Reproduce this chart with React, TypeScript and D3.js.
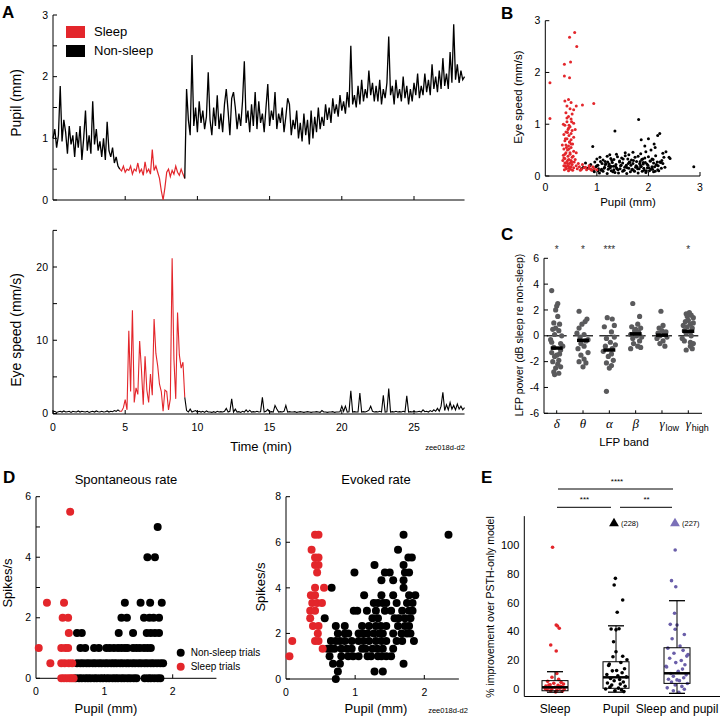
import React from "react";
import * as d3 from "d3";

const FONT = "'Liberation Sans', Arial, Helvetica, sans-serif";
const SERIF = "'Liberation Serif', 'Times New Roman', serif";
const RED = "#e3262b";
const PURPLE = "#6a5ea9";
const GREY = "#5a5a5c";

// ---- A: traces sampled every 0.125 min ----
const STEP = 0.125;
const SLEEP_START = 4.75;
const WAKE_START = 9.25;

const pupilPre = [1.0, 1.15, 0.85, 1.05, 1.85, 0.95, 1.3, 1.1, 0.75, 1.2,
  0.9, 1.05, 0.7, 1.1, 0.85, 1.2, 0.65, 1.0, 1.45, 0.8,
  1.05, 0.75, 1.6, 0.9, 1.15, 0.8, 0.95, 0.7, 1.0, 0.65,
  1.27, 0.8, 0.7, 0.85, 0.6, 0.7, 0.55, 0.5];
const pupilSleep = [0.47, 0.55, 0.45, 0.5, 0.48, 0.55, 0.42, 0.5, 0.47, 0.6,
  0.45, 0.5, 0.4, 0.62, 0.45, 0.5, 0.42, 0.82, 0.48, 0.55,
  0.45, 0.35, 0.15, 0.0, 0.2, 0.45, 0.5, 0.38, 0.48, 0.42,
  0.55, 0.45, 0.4, 0.5, 0.42, 0.35];
const pupilPost = [1.8, 1.3, 1.05, 2.35, 1.2, 1.5, 1.1, 1.6,
  1.25, 1.45, 1.15, 1.35, 2.07, 1.3, 1.05, 1.5,
  1.2, 1.7, 1.15, 1.4, 1.1, 1.55, 1.8, 1.45,
  1.05, 1.65, 1.75, 1.5, 1.15, 1.4, 1.2, 1.6,
  2.25, 1.25, 1.45, 1.1, 1.55, 1.2, 1.75, 1.15,
  1.6, 1.25, 1.4, 1.1, 1.5, 1.88, 1.2, 1.45,
  1.3, 1.75, 1.15, 1.4, 1.25, 1.5, 1.1, 1.35,
  1.65, 1.55, 1.05, 1.3, 1.15, 1.45, 1.0, 1.25,
  0.95, 1.4, 1.05, 1.3, 0.9, 1.45, 1.0, 1.35,
  1.1, 1.5, 1.15, 1.35, 1.2, 1.55, 1.3, 1.5,
  1.25, 1.65, 1.4, 1.55, 1.35, 1.7, 1.45, 1.6,
  1.4, 1.75, 1.5, 2.5, 1.55, 1.7, 1.5, 1.85,
  1.55, 1.95, 1.6, 1.8, 1.65, 2.1, 1.7, 1.9,
  1.6, 1.85, 1.6, 1.95, 1.55, 1.8, 1.65, 1.9,
  2.65, 1.7, 1.85, 1.55, 1.95, 1.65, 1.8, 1.6,
  2.0, 1.65, 1.85, 1.55, 1.8, 1.6, 1.9, 1.7,
  2.05, 1.65, 1.85, 1.7, 2.05, 1.75, 1.95, 1.7,
  2.2, 1.8, 2.0, 1.75, 2.1, 1.8, 2.3, 1.85,
  2.05, 1.8, 2.4, 1.9, 2.85, 1.95, 2.2, 1.9,
  2.1, 1.95, 2.0];

const eyePre = [0.2, 0.3, 0.15, 0.25, 0.3, 0.2, 0.35, 0.2, 0.25, 0.3,
  0.15, 0.3, 0.25, 0.2, 0.35, 0.2, 0.3, 0.25, 0.2, 0.3,
  0.15, 0.25, 0.3, 0.2, 0.35, 0.25, 0.2, 0.3, 0.2, 0.25,
  0.35, 0.2, 0.3, 0.25, 0.4, 0.3, 0.5, 0.3];
const eyeSleep = [0.3, 0.8, 1.9, 0.5, 11.3, 3.0, 14.1, 1.5, 3.5, 2.6,
  9.9, 6.0, 1.2, 7.8, 3.2, 1.5, 5.4, 2.5, 12.9, 8.2,
  6.5, 4.0, 3.0, 0.3, 3.2, 3.0, 0.5, 2.0, 21.2, 7.4,
  2.0, 13.8, 8.0, 6.2, 7.0, 2.2];
const eyePost = [0.4, 0.2, 0.6, 0.2, 0.3, 0.4, 0.2, 0.3,
  0.2, 0.3, 0.15, 0.35, 0.2, 0.2, 0.15, 0.25,
  0.15, 0.3, 0.2, 0.25, 0.2, 0.3, 0.7, 0.2,
  0.3, 2.0, 0.2, 0.6, 0.2, 0.25, 0.15, 0.3,
  0.2, 0.5, 0.2, 0.45, 0.2, 0.25, 0.2, 0.3,
  0.2, 0.25, 2.2, 0.2, 0.3, 0.55, 0.2, 0.25,
  0.2, 1.1, 0.6, 0.2, 0.25, 0.2, 0.3, 1.1,
  0.2, 0.25, 0.2, 0.2, 0.25, 0.15, 0.2, 0.25,
  0.2, 0.15, 0.2, 0.25, 0.2, 0.15, 0.2, 0.2,
  0.25, 0.2, 0.15, 0.4, 0.2, 0.2, 0.15, 0.2,
  0.2, 0.25, 0.15, 0.2, 0.2, 0.25, 1.0, 0.3,
  1.0, 0.2, 0.25, 3.1, 0.2, 0.25, 0.2, 0.2,
  2.8, 0.2, 0.25, 0.2, 0.3, 0.45, 1.0, 0.3,
  0.2, 0.25, 0.2, 0.3, 0.2, 2.5, 0.2, 0.25,
  3.4, 0.2, 0.25, 0.2, 0.3, 0.2, 0.25, 0.2,
  0.3, 0.2, 2.4, 0.2, 0.25, 0.2, 0.3, 0.2,
  0.25, 0.3, 0.2, 0.5, 0.25, 0.3, 0.2, 0.4,
  0.25, 0.5, 0.3, 0.7, 0.3, 1.0, 2.9, 0.4,
  1.2, 0.5, 1.5, 0.6, 1.1, 0.5, 1.3, 0.6,
  1.0, 0.5, 0.8];

// ---- B: eye speed vs pupil ----
const bSleepPupil = [0.09, 0.09, 0.37, 0.37, 0.47, 0.49, 0.47, 0.57, 0.61, 0.72, 0.94,
  0.38, 0.45, 0.5, 0.42, 0.48, 0.55, 0.4, 0.52, 0.45, 0.5,
  0.42, 0.55, 0.38, 0.48, 0.44, 0.52, 0.4, 0.5, 0.36, 0.46,
  0.55, 0.42, 0.5, 0.38, 0.47, 0.53, 0.4, 0.45, 0.5, 0.36,
  0.43, 0.55, 0.4, 0.48, 0.35, 0.44, 0.52, 0.38, 0.46, 0.5,
  0.34, 0.42, 0.56, 0.38, 0.47, 0.52, 0.36, 0.44, 0.5, 0.4,
  0.55, 0.46, 0.6, 0.58, 0.62, 0.66, 0.7, 0.75, 0.8, 0.85,
  0.9, 0.95, 1.0, 0.72, 0.85, 0.6, 0.58, 0.33, 0.35, 0.6,
  0.37, 0.41, 0.45, 0.49, 0.53, 0.39, 0.43, 0.47, 0.51, 0.36, 0.44, 0.48, 0.41, 0.5, 0.46,
  0.39, 0.43, 0.47, 0.51, 0.42, 0.46, 0.38, 0.54, 0.45, 0.49, 0.68, 0.78, 0.88, 0.64, 0.92];
const bSleepSpeed = [1.8, 1.11, 2.16, 1.93, 1.9, 2.2, 2.68, 2.77, 2.5, 1.37, 1.4,
  1.45, 1.48, 1.42, 1.35, 1.3, 1.28, 1.22, 1.2, 1.15, 1.1,
  1.05, 1.02, 0.98, 0.95, 0.9, 0.88, 0.85, 0.82, 0.8, 0.78,
  0.75, 0.72, 0.7, 0.68, 0.65, 0.62, 0.6, 0.58, 0.55, 0.52,
  0.5, 0.48, 0.45, 0.42, 0.4, 0.38, 0.36, 0.34, 0.32, 0.3,
  0.3, 0.28, 0.27, 0.25, 0.24, 0.22, 0.2, 0.2, 0.18, 0.17,
  0.16, 0.15, 0.2, 0.32, 0.14, 0.18, 0.13, 0.16, 0.12, 0.15,
  0.11, 0.14, 0.12, 0.22, 0.2, 0.45, 0.9, 0.6, 1.0, 1.35,
  0.12, 0.14, 0.1, 0.13, 0.11, 0.2, 0.24, 0.18, 0.27, 0.35, 0.31, 0.45, 0.55, 0.62, 0.98,
  0.72, 0.84, 0.66, 1.05, 1.12, 0.52, 0.42, 0.38, 0.92, 0.26, 0.11, 0.17, 0.13, 0.24, 0.18];
const bWakePupil = [0.95, 1.05, 1.12, 1.2, 1.28, 1.35, 1.42, 1.5, 1.58, 1.65, 1.72, 1.8, 1.88, 1.95, 2.02, 2.1,
  0.82, 0.9, 0.98, 1.03, 1.08, 1.15, 1.22, 1.27, 1.33, 1.38, 1.45, 1.52, 1.56, 1.62, 1.68, 1.75, 1.82, 1.86, 1.92, 1.98, 2.05, 2.12, 2.18, 2.25, 2.32,
  0.78, 0.88, 0.96, 1.02, 1.1, 1.16, 1.24, 1.3, 1.37, 1.44, 1.5, 1.57, 1.63, 1.7, 1.77, 1.84, 1.9, 1.97, 2.03, 2.1, 2.16, 2.22, 2.28,
  1.0, 1.06, 1.12, 1.2, 1.27, 1.33, 1.4, 1.48, 1.55, 1.6, 1.67, 1.74, 1.8, 1.87, 1.93, 2.0, 2.07, 2.14, 2.3, 2.42,
  1.38, 1.55, 1.62, 1.85, 1.95, 2.28, 1.7, 1.25,
  0.92, 1.35, 1.81, 2.88, 1.86, 2.0, 2.18, 2.22, 2.11, 2.13, 2.34, 2.4, 1.93, 2.05,
  1.0, 1.09, 1.18, 1.26, 1.32, 1.41, 1.47, 1.54, 1.61, 1.69, 1.76, 1.83, 1.91, 1.99, 2.07, 2.15, 2.2, 0.86, 0.74, 0.7,
  1.02, 1.14, 1.23, 1.31, 1.39, 1.46, 1.53, 1.59, 1.66, 1.73, 1.79, 1.85, 1.9, 1.96, 2.01, 2.08, 2.13, 2.19, 2.24,
  1.07, 1.16, 1.29, 1.36, 1.44, 1.51, 1.64, 1.71, 1.78, 1.84, 1.89, 1.94, 2.04, 2.09, 2.17, 2.26, 0.94, 1.21];
const bWakeSpeed = [0.08, 0.06, 0.09, 0.05, 0.1, 0.07, 0.06, 0.09, 0.05, 0.08, 0.1, 0.06, 0.09, 0.07, 0.1, 0.08,
  0.15, 0.12, 0.18, 0.14, 0.11, 0.17, 0.13, 0.19, 0.12, 0.16, 0.14, 0.11, 0.18, 0.15, 0.12, 0.17, 0.14, 0.19, 0.11, 0.16, 0.13, 0.18, 0.12, 0.15, 0.17,
  0.25, 0.22, 0.27, 0.21, 0.24, 0.28, 0.23, 0.26, 0.22, 0.29, 0.25, 0.21, 0.27, 0.24, 0.28, 0.22, 0.26, 0.23, 0.29, 0.25, 0.21, 0.27, 0.24,
  0.33, 0.36, 0.31, 0.38, 0.34, 0.32, 0.37, 0.35, 0.39, 0.33, 0.31, 0.36, 0.38, 0.32, 0.35, 0.37, 0.33, 0.39, 0.36, 0.34,
  0.42, 0.45, 0.41, 0.43, 0.47, 0.44, 0.46, 0.41,
  0.57, 0.87, 1.09, 0.18, 0.7, 0.72, 0.78, 0.82, 0.62, 0.55, 0.47, 0.36, 0.58, 0.5,
  0.2, 0.13, 0.23, 0.16, 0.19, 0.12, 0.21, 0.17, 0.24, 0.13, 0.2, 0.24, 0.15, 0.21, 0.18, 0.22, 0.1, 0.2, 0.17, 0.14,
  0.1, 0.15, 0.19, 0.08, 0.14, 0.2, 0.11, 0.16, 0.21, 0.09, 0.14, 0.18, 0.23, 0.1, 0.16, 0.13, 0.09, 0.2, 0.26,
  0.28, 0.22, 0.3, 0.19, 0.27, 0.33, 0.26, 0.3, 0.18, 0.28, 0.33, 0.26, 0.29, 0.32, 0.27, 0.3, 0.1, 0.27];

// ---- C: LFP power per band ----
const bandSymbols = ["δ", "θ", "α", "β", "γ", "γ"];
const bandSubs = ["", "", "", "", "low", "high"];
const bandMedians = [-0.95, -0.35, -1.1, 0.15, 0.05, 0.35];
const bandStars = ["*", "*", "***", "", "", "*"];
const deltaVals = [3.5, 2.5, 2.3, 2.0, 1.5, 0.9, 0.6, 0.5, 0.4, 0.1, -0.3, -0.5, -0.6, -0.9, -1.1, -1.3, -1.4, -1.5, -1.6, -1.9, -2.0, -2.2, -2.5, -2.8, -2.9, -3.0, 0.0, -0.8, 1.0, -2.4];
const deltaJit = [-0.19, 0.04, 0, -0.04, 0.04, 0.11, -0.04, -0.15, 0.08, -0.08, -0.23, -0.19, 0.15, -0.11, 0.15, -0.19, 0.11, 0, -0.08, 0.08, -0.15, 0.04, -0.04, -0.11, 0.08, -0.08, 0.19, 0.23, -0.11, 0.15];
const thetaVals = [1.9, 1.3, 1.1, 0.9, 0.6, 0.2, 0.1, -0.1, -0.3, -0.4, -0.6, -0.8, -1.0, -1.3, -1.5, -1.8, -2.0, -2.1, -2.4];
const thetaJit = [-0.15, 0.15, 0.08, -0.04, -0.15, -0.23, 0.04, -0.11, 0.19, 0.11, -0.08, 0.04, -0.19, 0.19, -0.08, 0.04, -0.15, 0.11, 0];
const alphaVals = [1.4, 1.3, 0.8, 0.7, 0.3, -0.1, -0.2, -0.5, -0.7, -0.8, -1.0, -1.2, -1.4, -1.6, -1.9, -2.1, -2.3, -2.5, -4.3];
const alphaJit = [-0.08, 0.11, 0.19, -0.19, 0.08, 0.19, -0.11, 0.04, 0.23, -0.15, 0.11, -0.23, 0.08, -0.04, 0.15, -0.11, 0.08, 0, -0.11];
const betaVals = [2.5, 1.5, 0.9, 0.7, 0.6, 0.5, 0.4, 0.3, 0.1, 0.0, -0.1, -0.2, -0.4, -0.6, -0.8, -0.9, -1.0];
const betaJit = [-0.11, 0.15, 0.08, -0.15, 0.19, 0, -0.04, 0.11, -0.19, 0.04, 0.23, -0.11, 0.15, -0.08, 0.08, 0.19, -0.19];
const gLowVals = [1.9, 0.8, 0.6, 0.4, 0.3, 0.2, 0.1, 0.0, -0.1, -0.2, -0.4, -0.6, -0.8];
const gLowJit = [-0.04, 0.04, -0.11, 0, 0.15, -0.15, 0.08, -0.08, 0.19, -0.19, 0.04, -0.08, 0.11];
const gHighVals = [1.8, 1.7, 1.6, 1.5, 1.4, 1.2, 1.1, 1.0, 0.9, 0.8, 0.7, 0.6, 0.4, 0.3, 0.2, 0.0, -0.2, -0.4, -0.5, -0.6, -0.8, -1.0, -1.1];
const gHighJit = [0.04, -0.08, 0.11, -0.04, 0.19, 0, -0.11, 0.19, 0.08, -0.19, -0.04, 0.15, -0.15, 0.08, -0.08, 0.11, -0.23, -0.15, 0.08, 0.19, 0.08, 0.15, -0.08];

// ---- D: spike rates vs pupil ----
const spontSleepPupil = [0.04, 0.21, 0.16, 0.41, 0.5, 0.39, 0.47, 0.48, 0.37, 0.43, 0.47, 0.37, 0.42, 0.48, 0.53, 0.37, 0.41, 0.45, 0.49, 0.52, 0.55];
const spontSleepRate = [1, 0.5, 2.5, 2.5, 5.5, 2, 2, 1.5, 1, 1, 1, 0.5, 0.5, 0.5, 0.5, 0, 0, 0, 0, 0, 0];
const spontRates = [0, 0.5, 1, 1.5, 2, 2.5, 4, 5];
const spontWakePupils = [
  [0.58, 0.63, 0.67, 0.72, 0.76, 0.8, 0.85, 0.89, 0.94, 0.98, 1.03, 1.07, 1.12, 1.16, 1.2, 1.25, 1.29, 1.34, 1.38, 1.43, 1.47, 1.59, 1.64, 1.68, 1.73, 1.78, 1.82],
  [0.6, 0.65, 0.69, 0.74, 0.78, 0.83, 0.87, 0.92, 0.96, 1.01, 1.05, 1.1, 1.14, 1.18, 1.23, 1.27, 1.32, 1.36, 1.41, 1.45, 1.5, 1.54, 1.59, 1.63, 1.68, 1.72, 1.77, 1.82, 1.86],
  [0.65, 0.72, 0.85, 0.92, 1.03, 1.08, 1.14, 1.2, 1.25, 1.3, 1.34, 1.42, 1.47, 1.52, 1.58, 1.63, 1.68],
  [0.6, 0.67, 1.21, 1.42, 1.62, 1.68, 1.74, 1.8],
  [1.25, 1.33, 1.58, 1.66, 1.72, 1.8],
  [1.3, 1.53, 1.67, 1.84],
  [1.63, 1.74],
  [1.78],
];
const evSleepPupil = [0.42, 0.47, 0.37, 0.42, 0.47, 0.42, 0.47, 0.45, 0.42, 0.55, 0.36, 0.42, 0.38, 0.45, 0.52, 0.35, 0.42, 0.35, 0.39, 0.47, 0.46, 0.42, 0.47, 0.53, 0.05, 0.09];
const evSleepRate = [6.33, 6.33, 5.67, 5.33, 5.33, 5.0, 5.0, 4.67, 4.0, 4.0, 3.67, 3.67, 3.33, 3.33, 3.33, 3.0, 3.0, 2.67, 2.33, 2.33, 2.0, 1.67, 1.67, 1.33, 1.0, 1.67];
const evRates = [6.33, 5.67, 5.33, 5.0, 4.67, 4.33, 4.0, 3.67, 3.33, 3.0, 2.67, 2.33, 2.0, 1.67, 1.33, 1.0, 0.67, 0.33, 0];
const evWakePupils = [
  [1.7, 2.35],
  [1.62],
  [1.77, 1.82],
  [1.28, 1.7],
  [0.99, 1.43, 1.5, 1.72, 1.78],
  [1.38, 1.55, 1.7],
  [0.66, 1.7],
  [1.13, 1.38, 1.55, 1.78, 1.87],
  [1.27, 1.33, 1.4, 1.45, 1.6, 1.75, 1.83],
  [0.98, 1.03, 1.17, 1.3, 1.43, 1.52, 1.68, 1.78, 1.83],
  [0.56, 1.25, 1.33, 1.57, 1.63, 1.72, 1.8],
  [0.72, 0.85, 1.1, 1.2, 1.3, 1.37, 1.45, 1.62, 1.72, 1.78],
  [0.75, 0.85, 0.9, 1.05, 1.12, 1.18, 1.27, 1.35, 1.4, 1.55, 1.67, 1.75, 1.8],
  [0.65, 0.72, 0.78, 0.85, 0.95, 1.05, 1.12, 1.2, 1.3, 1.38, 1.45, 1.6, 1.68, 1.85],
  [0.6, 0.65, 0.7, 0.8, 0.88, 0.95, 1.1, 1.15, 1.25, 1.32, 1.4, 1.55],
  [0.63, 0.8, 0.9, 0.97, 1.05, 1.18, 1.23, 1.33, 1.38, 1.45, 1.52],
  [0.68, 0.78, 1.7],
  [0.75, 1.28, 1.4],
  [0.72],
];

// ---- E: model improvement ----
const groups = ["Sleep", "Pupil", "Sleep and pupil"];
const boxQ1 = [-1, 0.7, 4.1];
const boxMed = [1.4, 8.3, 11.1];
const boxQ3 = [6, 19.1, 28.8];
const whiskLo = [-2, -2, -2.8];
const whiskHi = [12.2, 44, 61.4];
const offscale = [0, 228, 227];
const sleepImp = [98.4, 44.6, 43.9, 42.3, 30.7, 26.5, 11, 8.3, 6.9, 5.5, 4.8, 4.2, 3.6, 3.1, 2.7, 2.2, 1.8, 1.4, 1.0, 0.7, 0.4, 0.1, -0.3, -0.6, -1.0, -1.4, -1.8, 2.0, 3.0, 0.5, 1.2];
const sleepJit = [-0.04, 0.02, 0.04, 0.07, -0.07, 0.02, 0.03, -0.05, 0.06, -0.12, 0.1, -0.02, 0.14, -0.08, 0.05, -0.15, 0.11, 0.0, -0.1, 0.08, -0.05, 0.15, -0.13, 0.03, -0.07, 0.12, 0.01, 0.09, -0.1, -0.16, 0.06];
const pupilImp = [76.9, 72.3, 61.9, 53.4, 41.8, 41.2, 42.0, 26, 22.6, 22.9, 18.6, 16.5, 14.2, 12.8, 11.5, 10.2, 9.4, 8.6, 7.5, 6.8, 5.9, 5.1, 4.4, 3.6, 2.9, 2.1, 1.5, 0.8, 0.2, -0.4, -1.0, -1.6, 33, 20.5, 17.5, 13];
const pupilJit = [-0.01, -0.03, 0.11, 0.02, -0.08, 0.0, 0.05, 0.0, -0.05, 0.11, 0.08, -0.12, 0.14, -0.06, 0.1, -0.15, 0.03, 0.17, -0.09, 0.06, -0.03, 0.12, -0.14, 0.07, -0.07, 0.15, -0.1, 0.04, -0.17, 0.09, -0.02, 0.13, -0.04, 0.18, -0.11, 0.01];
const bothImp = [96.5, 75.3, 71.1, 52.7, 45, 44.6, 41.6, 38, 35, 30, 28.5, 27, 25, 23, 21.5, 20, 18.5, 17, 15.5, 14, 12.5, 11, 10, 9, 8, 7, 6, 5, 4, 3, 2, 1, 0, -1, -2, 24, 16, 6.5];
const bothJit = [-0.03, -0.09, -0.02, -0.04, -0.11, 0.0, -0.03, 0.12, -0.08, 0.05, -0.15, 0.1, -0.05, 0.16, -0.12, 0.07, -0.02, 0.13, -0.17, 0.09, 0.02, -0.1, 0.15, -0.06, 0.11, -0.14, 0.04, -0.09, 0.17, -0.03, 0.08, -0.16, 0.12, -0.06, 0.03, 0.18, -0.18, 0.0];

type Scale = (v: number) => number;

function VAxis({ y, x, lo, hi, ticks, labels, size = 10.5, tick = 4 }: { y: Scale; x: number; lo: number; hi: number; ticks: number[]; labels: number[]; size?: number; tick?: number }) {
  return (
    <g>
      <line x1={x} x2={x} y1={y(lo)} y2={y(hi)} stroke="#000" />
      {ticks.map((t) => <line key={"t" + t} x1={x} x2={x + tick} y1={y(t)} y2={y(t)} stroke="#000" />)}
      {labels.map((t) => (
        <text key={"l" + t} x={x - 5} y={y(t)} dy="0.35em" textAnchor="end" fontSize={size}>{t}</text>
      ))}
    </g>
  );
}

function HAxis({ x, y, lo, hi, ticks, labels, size = 10.5, tick = 4, dy = 14 }: { x: Scale; y: number; lo: number; hi: number; ticks: number[]; labels: number[]; size?: number; tick?: number; dy?: number }) {
  return (
    <g>
      <line x1={x(lo)} x2={x(hi)} y1={y} y2={y} stroke="#000" />
      {ticks.map((t) => <line key={"t" + t} x1={x(t)} x2={x(t)} y1={y} y2={y - tick} stroke="#000" />)}
      {labels.map((t) => (
        <text key={"l" + t} x={x(t)} y={y + dy} textAnchor="middle" fontSize={size}>{t}</text>
      ))}
    </g>
  );
}

const series = (vals: number[], t0: number) => vals.map((v, i) => [t0 + i * STEP, v] as [number, number]);

export default function App() {
  // A
  const xA = d3.scaleLinear().domain([0, 25]).range([53, 414]);
  const yPupil = d3.scaleLinear().domain([0, 3]).range([200, 15]);
  const ySpeed = d3.scaleLinear().domain([0, 20]).range([413.5, 267]);
  const pPre = series(pupilPre, 0);
  const pSleep = series(pupilSleep, SLEEP_START);
  const pPost = series(pupilPost, WAKE_START);
  const ePre = series(eyePre, 0);
  const eSleep = series(eyeSleep, SLEEP_START);
  const ePost = series(eyePost, WAKE_START);
  const tEnd = pPost[pPost.length - 1][0];
  const lineP = d3.line<[number, number]>().x((d) => xA(d[0])).y((d) => yPupil(d[1]));
  const lineE = d3.line<[number, number]>().x((d) => xA(d[0])).y((d) => ySpeed(d[1]));

  // B
  const xB = d3.scaleLinear().domain([0, 3]).range([545.3, 700]);
  const yB = d3.scaleLinear().domain([0, 3]).range([176, 20.7]);

  // C
  const xC = d3.scaleLinear().domain([0, 5]).range([556.7, 688.3]);
  const yC = d3.scaleLinear().domain([-6, 6]).range([413.3, 258.3]);
  const bandVals = [deltaVals, thetaVals, alphaVals, betaVals, gLowVals, gHighVals];
  const bandJit = [deltaJit, thetaJit, alphaJit, betaJit, gLowJit, gHighJit];

  // D
  const xD1 = d3.scaleLinear().domain([0, 2]).range([36, 172.7]);
  const yD1 = d3.scaleLinear().domain([0, 6]).range([678.3, 496.7]);
  const xD2 = d3.scaleLinear().domain([0, 2]).range([286, 424.3]);
  const yD2 = d3.scaleLinear().domain([0, 8]).range([679, 496.7]);

  // E
  const xE = d3.scaleLinear().domain([0, 2]).range([555, 677]);
  const yE = d3.scaleLinear().domain([0, 100]).range([689.3, 545]);
  const impVals = [sleepImp, pupilImp, bothImp];
  const impJit = [sleepJit, pupilJit, bothJit];
  const impColor = [RED, "#000", PURPLE];
  const tri = d3.symbol().type(d3.symbolTriangle).size(42)() as string;

  const panelLetter = (x: number, y: number, s: string) => (
    <text x={x} y={y} fontSize={17} fontWeight="bold">{s}</text>
  );

  return (
    <svg width={720} height={720} style={{ position: "absolute", left: 0, top: 0, background: "#fff" }} fontFamily={FONT}>
      {/* ---------- A top ---------- */}
      {panelLetter(2, 18, "A")}
      <VAxis y={yPupil} x={53} lo={0} hi={3} ticks={[0, 0.5, 1, 1.5, 2, 2.5, 3]} labels={[0, 1, 2, 3]} />
      <HAxis x={xA} y={200} lo={0} hi={tEnd} ticks={[5, 10, 15, 20, 25]} labels={[]} />
      <path d={lineP(pPre) || ""} fill="none" stroke="#000" strokeWidth={1.3} />
      <path d={lineP([pPre[pPre.length - 1], ...pSleep]) || ""} fill="none" stroke={RED} strokeWidth={1.2} />
      <path d={lineP([pSleep[pSleep.length - 1], ...pPost]) || ""} fill="none" stroke="#000" strokeWidth={1.3} />
      <rect x={66} y={26} width={19} height={12} fill={RED} />
      <rect x={66} y={45} width={19} height={12} fill="#000" />
      <text x={94} y={35.5} fontSize={13}>Sleep</text>
      <text x={94} y={55} fontSize={13}>Non-sleep</text>
      <text transform="translate(21,103) rotate(-90)" textAnchor="middle" fontSize={14}>Pupil (mm)</text>

      {/* ---------- A bottom ---------- */}
      <VAxis y={ySpeed} x={53} lo={0} hi={25} ticks={[0, 5, 10, 15, 20, 25]} labels={[0, 10, 20]} />
      <HAxis x={xA} y={414} lo={0} hi={tEnd} ticks={[0, 5, 10, 15, 20, 25]} labels={[0, 5, 10, 15, 20, 25]} dy={17} />
      <path d={lineE(ePre) || ""} fill="none" stroke="#000" strokeWidth={1.1} />
      <path d={lineE([ePre[ePre.length - 1], ...eSleep]) || ""} fill="none" stroke={RED} strokeWidth={1.1} />
      <path d={lineE([eSleep[eSleep.length - 1], ...ePost]) || ""} fill="none" stroke="#000" strokeWidth={1.1} />
      <text transform="translate(21,330) rotate(-90)" textAnchor="middle" fontSize={14}>Eye speed (mm/s)</text>
      <text x={261} y={451} textAnchor="middle" fontSize={13}>Time (min)</text>
      <text x={445} y={450} textAnchor="middle" fontSize={7.5}>zee018d-d2</text>

      {/* ---------- B ---------- */}
      {panelLetter(501, 18.5, "B")}
      <VAxis y={yB} x={xB(0)} lo={0} hi={3} ticks={[0, 1, 2, 3]} labels={[0, 1, 2, 3]} size={10.5} />
      <HAxis x={xB} y={yB(0)} lo={0} hi={3} ticks={[1, 2, 3]} labels={[0, 1, 2, 3]} dy={15} />
      {bWakePupil.map((p, i) => (
        <circle key={"bw" + i} cx={xB(p)} cy={yB(bWakeSpeed[i])} r={1.5} fill="#000" />
      ))}
      {bSleepPupil.map((p, i) => (
        <circle key={"bs" + i} cx={xB(p)} cy={yB(bSleepSpeed[i])} r={1.5} fill={RED} />
      ))}
      <text transform="translate(522,97) rotate(-90)" textAnchor="middle" fontSize={11.5}>Eye speed (mm/s)</text>
      <text x={628} y={206} textAnchor="middle" fontSize={11.5}>Pupil (mm)</text>

      {/* ---------- C ---------- */}
      {panelLetter(501, 239.5, "C")}
      <VAxis y={yC} x={544} lo={-6} hi={6} ticks={[-6, -4, -2, 0, 2, 4, 6]} labels={[-6, -4, -2, 0, 2, 4, 6]} size={10.5} />
      <line x1={544} x2={702} y1={yC(-6)} y2={yC(-6)} stroke="#000" />
      {bandSymbols.map((s, i) => (
        <g key={"band" + i}>
          <line x1={xC(i)} x2={xC(i)} y1={yC(-6)} y2={yC(-6) - 3} stroke="#000" />
          <line x1={xC(i) - 10} x2={xC(i) + 10} y1={yC(0)} y2={yC(0)} stroke="#000" strokeWidth={1.2} />
          {bandVals[i].map((v, j) => (
            <circle key={j} cx={xC(i + bandJit[i][j])} cy={yC(v)} r={2.6} fill={GREY} />
          ))}
          <line x1={xC(i) - 6} x2={xC(i) + 6} y1={yC(bandMedians[i])} y2={yC(bandMedians[i])} stroke="#000" strokeWidth={3.5} />
          <text x={xC(i)} y={253} textAnchor="middle" fontSize={10} fill="#333">{bandStars[i]}</text>
          <text x={xC(i)} y={428} textAnchor="middle" fontSize={13} fontFamily={SERIF} fontStyle="italic">{s}</text>
          {bandSubs[i] && (
            <text x={xC(i) + 3.5} y={431} fontSize={9}>{bandSubs[i]}</text>
          )}
        </g>
      ))}
      <text x={624} y={446} textAnchor="middle" fontSize={11.5}>LFP band</text>
      <text transform="translate(523,335) rotate(-90)" textAnchor="middle" fontSize={10.5}>LFP power (dB sleep re non-sleep)</text>

      {/* ---------- D left ---------- */}
      {panelLetter(3, 483, "D")}
      <text x={126} y={483.5} textAnchor="middle" fontSize={13}>Spontaneous rate</text>
      <VAxis y={yD1} x={xD1(0)} lo={0} hi={6} ticks={[0, 1, 2, 3, 4, 5, 6]} labels={[0, 2, 4, 6]} />
      <HAxis x={xD1} y={yD1(0)} lo={0} hi={2.64} ticks={[1, 2]} labels={[0, 1, 2]} dy={17} />
      {spontRates.map((r, k) => spontWakePupils[k].map((p, i) => (
        <circle key={"sw" + k + "_" + i} cx={xD1(p)} cy={yD1(r)} r={4} fill="#000" />
      )))}
      {spontSleepPupil.map((p, i) => (
        <circle key={"ss" + i} cx={xD1(p)} cy={yD1(spontSleepRate[i])} r={4} fill={RED} />
      ))}
      <circle cx={180.7} cy={652.7} r={4} fill="#000" />
      <circle cx={180.7} cy={666.7} r={4} fill={RED} />
      <text x={190.7} y={656.2} fontSize={10}>Non-sleep trials</text>
      <text x={190.7} y={670.2} fontSize={10}>Sleep trials</text>
      <text transform="translate(12,583) rotate(-90)" textAnchor="middle" fontSize={13}>Spikes/s</text>
      <text x={106} y={713} textAnchor="middle" fontSize={13}>Pupil (mm)</text>

      {/* ---------- D right ---------- */}
      <text x={376} y={483.5} textAnchor="middle" fontSize={13}>Evoked rate</text>
      <VAxis y={yD2} x={xD2(0)} lo={0} hi={8} ticks={[0, 2, 4, 6, 8]} labels={[0, 2, 4, 6, 8]} />
      <HAxis x={xD2} y={yD2(0)} lo={0} hi={2.5} ticks={[1, 2]} labels={[0, 1, 2]} dy={17} />
      {evRates.map((r, k) => evWakePupils[k].map((p, i) => (
        <circle key={"ew" + k + "_" + i} cx={xD2(p)} cy={yD2(r)} r={4} fill="#000" />
      )))}
      {evSleepPupil.map((p, i) => (
        <circle key={"es" + i} cx={xD2(p)} cy={yD2(evSleepRate[i])} r={4} fill={RED} />
      ))}
      <text transform="translate(265,587) rotate(-90)" textAnchor="middle" fontSize={13}>Spikes/s</text>
      <text x={376} y={713} textAnchor="middle" fontSize={13}>Pupil (mm)</text>
      <text x={448} y={713} textAnchor="middle" fontSize={7.5}>zee018d-d2</text>

      {/* ---------- E ---------- */}
      {panelLetter(481, 483, "E")}
      <VAxis y={yE} x={524.3} lo={-5} hi={120} ticks={[0, 20, 40, 60, 80, 100]} labels={[0, 20, 40, 60, 80, 100]} size={11} tick={0} />
      <line x1={524.3} x2={720} y1={yE(-5)} y2={yE(-5)} stroke="#000" />
      {groups.map((g, i) => (
        <g key={"grp" + i}>
          {impVals[i].map((v, j) => (
            <circle key={j} cx={xE(i + impJit[i][j])} cy={yE(v)} r={1.8} fill={impColor[i]} />
          ))}
          <rect x={xE(i) - 13} y={yE(boxQ3[i])} width={26} height={yE(boxQ1[i]) - yE(boxQ3[i])} fill="none" stroke="#000" />
          <line x1={xE(i) - 13} x2={xE(i) + 13} y1={yE(boxMed[i])} y2={yE(boxMed[i])} stroke="#000" strokeWidth={2.5} />
          <line x1={xE(i)} x2={xE(i)} y1={yE(boxQ3[i])} y2={yE(whiskHi[i])} stroke="#000" />
          <line x1={xE(i)} x2={xE(i)} y1={yE(boxQ1[i])} y2={yE(whiskLo[i])} stroke="#000" />
          <line x1={xE(i) - 8} x2={xE(i) + 8} y1={yE(whiskHi[i])} y2={yE(whiskHi[i])} stroke="#000" strokeWidth={1.3} />
          <line x1={xE(i) - 8} x2={xE(i) + 8} y1={yE(whiskLo[i])} y2={yE(whiskLo[i])} stroke="#000" strokeWidth={1.3} />
          {offscale[i] > 0 && (
            <g>
              <path d={tri} transform={`translate(${xE(i) - 2},${yE(115)})`} fill={i === 2 ? "#7b70b8" : "#000"} />
              <text x={xE(i) + 5} y={yE(115) + 2.5} fontSize={7.5}>({offscale[i]})</text>
            </g>
          )}
          <text x={xE(i)} y={712.5} textAnchor="middle" fontSize={12}>{g}</text>
        </g>
      ))}
      <line x1={xE(0) + 3} x2={xE(2) - 4} y1={489} y2={489} stroke="#000" />
      <text x={(xE(0) + xE(2)) / 2 + 1} y={484} textAnchor="middle" fontSize={8}>****</text>
      <line x1={xE(0) + 2} x2={xE(1) - 5} y1={507.3} y2={507.3} stroke="#000" />
      <text x={(xE(0) + xE(1)) / 2 - 1} y={502} textAnchor="middle" fontSize={8}>***</text>
      <line x1={xE(1) + 4} x2={xE(2) - 5} y1={507.3} y2={507.3} stroke="#000" />
      <text x={(xE(1) + xE(2)) / 2} y={502} textAnchor="middle" fontSize={8}>**</text>
      <text transform="translate(494,607) rotate(-90)" textAnchor="middle" fontSize={10.5}>% improvement over PSTH-only model</text>
    </svg>
  );
}
